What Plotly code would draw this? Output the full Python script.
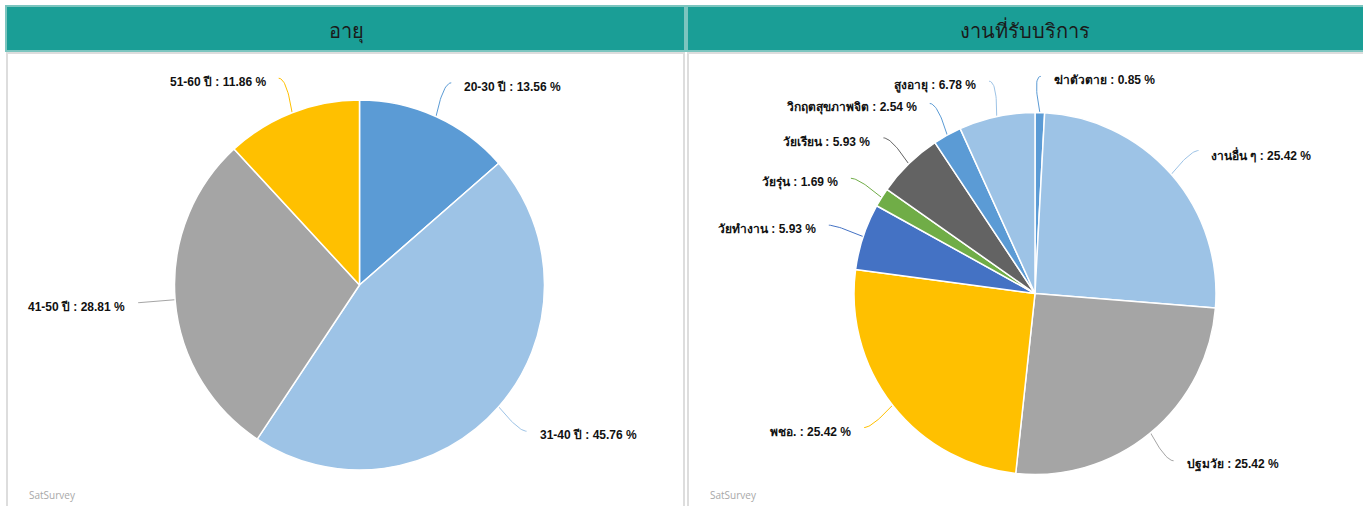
import math
import plotly.graph_objects as go

W, H = 1363, 506

# ---- data ----
age_title = "อายุ"
age_labels = ["20-30 ปี", "31-40 ปี", "41-50 ปี", "51-60 ปี"]
age_values = [13.56, 45.76, 28.81, 11.86]
age_colors = ["#5B9BD5", "#9DC3E6", "#A5A5A5", "#FFC000"]

svc_title = "งานที่รับบริการ"
svc_labels = ["ฆ่าตัวตาย", "งานอื่น ๆ", "ปฐมวัย", "พชอ.", "วัยทำงาน",
              "วัยรุ่น", "วัยเรียน", "วิกฤตสุขภาพจิต", "สูงอายุ"]
svc_values = [0.85, 25.42, 25.42, 25.42, 5.93, 1.69, 5.93, 2.54, 6.78]
svc_colors = ["#5B9BD5", "#9DC3E6", "#A5A5A5", "#FFC000", "#4472C4",
              "#70AD47", "#636363", "#5B9BD5", "#9DC3E6"]

credit = "SatSurvey"

# ---- layout geometry (pixels) ----
panels = [
    dict(title=age_title, labels=age_labels, values=age_values, colors=age_colors,
         cx=359.5, cy=285.0, r=185.0, x0=6, x1=685, tx=346),
    dict(title=svc_title, labels=svc_labels, values=svc_values, colors=svc_colors,
         cx=1035.0, cy=293.5, r=181.0, x0=687, x1=1366, tx=1025),
]

TEAL = "#1A9E96"
fig = go.Figure()
shapes = []
annotations = []
LABEL_FONT = dict(family="Arial, 'Liberation Sans', 'Noto Sans', sans-serif", size=12, color="#111111")

for p in panels:
    cx, cy, r = p["cx"], p["cy"], p["r"]
    fig.add_trace(go.Pie(
        labels=p["labels"], values=p["values"], sort=False, direction="clockwise",
        rotation=0, textinfo="none", hoverinfo="label+percent",
        marker=dict(colors=p["colors"], line=dict(color="white", width=1.5)),
        domain=dict(x=[(cx - r) / W, (cx + r) / W], y=[1 - (cy + r) / H, 1 - (cy - r) / H]),
        showlegend=False,
    ))
    # panel frames
    shapes.append(dict(type="rect", xref="x", yref="y", x0=p["x0"] + 1, x1=p["x1"] - 1, y0=53, y1=512,
                       line=dict(color="#DDDDDD", width=2), fillcolor="white", layer="below"))
    shapes.append(dict(type="rect", xref="x", yref="y", x0=p["x0"], x1=p["x1"], y0=6, y1=51,
                       line=dict(color="#7CC5BF", width=2), fillcolor=TEAL, layer="below"))
    annotations.append(dict(xref="x", yref="y", x=p["tx"], y=30, text=p["title"], showarrow=False,
                            xanchor="center", yanchor="middle",
                            font=dict(family="'Noto Sans', sans-serif", size=20, color="#1A1A1A")))
    annotations.append(dict(xref="x", yref="y", x=p["x0"] + 21, y=495, text=credit, showarrow=False,
                            xanchor="left", yanchor="middle",
                            font=dict(family="'Open Sans', Arial, sans-serif", size=10, color="#A8A8A8")))

    total = sum(p["values"])
    cum = 0.0
    for lab, val, col in zip(p["labels"], p["values"], p["colors"]):
        mid = (cum + val / 2) / total
        cum += val
        th = 2 * math.pi * mid
        dx, dy = math.sin(th), -math.cos(th)
        side = 1 if dx >= 0 else -1
        p0 = (cx + r * dx, cy + r * dy)
        p2 = (cx + 1.2 * r * dx, cy + 1.2 * r * dy)
        p1 = (p2[0] - side * 8, p2[1])
        xs, ys = [], []
        for i in range(21):
            t = i / 20
            xs.append((1 - t) ** 2 * p0[0] + 2 * (1 - t) * t * p1[0] + t ** 2 * p2[0])
            ys.append((1 - t) ** 2 * p0[1] + 2 * (1 - t) * t * p1[1] + t ** 2 * p2[1])
        fig.add_trace(go.Scatter(x=xs, y=ys, mode="lines", line=dict(color=col, width=1),
                                 hoverinfo="skip", showlegend=False, xaxis="x", yaxis="y"))
        annotations.append(dict(xref="x", yref="y", x=p2[0], y=p2[1] + 4,
                                text=f"<b>{lab} : {val:.2f} %</b>", showarrow=False,
                                xanchor="left" if side > 0 else "right", yanchor="middle",
                                xshift=side * 11, font=LABEL_FONT))

fig.update_layout(
    width=W, height=H, margin=dict(l=0, r=0, t=0, b=0),
    paper_bgcolor="white", plot_bgcolor="rgba(0,0,0,0)",
    xaxis=dict(range=[0, W], visible=False, fixedrange=True),
    yaxis=dict(range=[H, 0], visible=False, fixedrange=True),
    shapes=shapes, annotations=annotations, showlegend=False,
)
fig.write_html("out.html", config={"displayModeBar": False},
               post_script="document.body.style.margin='0';document.body.style.overflow='hidden';")
